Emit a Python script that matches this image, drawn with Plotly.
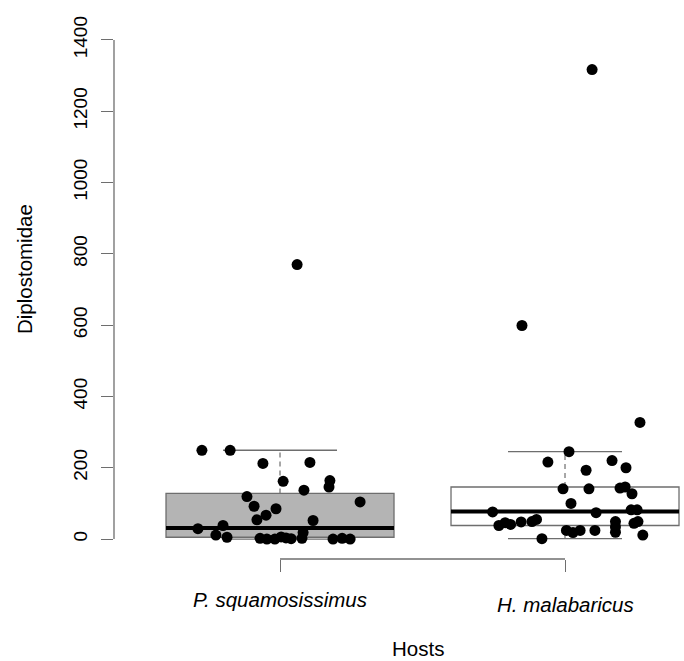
import plotly.graph_objects as go

# ---- data ----
hosts = ["P. squamosissimus", "H. malabaricus"]
host_pos = [1, 2]

# box statistics (lower whisker, Q1, median, Q3, upper whisker)
lower_whisker = [0, 1]
q1 = [5, 38]
median = [31, 77]
q3 = [128, 146]
upper_whisker = [249, 245]

# individual fish counts (jittered strip chart)
ps_values = [249, 249, 212, 215, 162, 164, 137, 146, 119, 104, 92, 85, 67, 54, 52,
             29, 38, 11, 5, 18, 2, 2, 0, 0, 6, 3, 1, 0, 2, 0, 770]
ps_jitter = [-0.274, -0.175, -0.060, 0.105, 0.011, 0.175, 0.084, 0.172, -0.116, 0.281,
             -0.091, -0.014, -0.049, -0.081, 0.116, -0.288, -0.200, -0.225, -0.186,
             0.081, 0.077, -0.070, -0.046, -0.018, 0.004, 0.021, 0.039, 0.186, 0.218,
             0.246, 0.060]

hm_values = [327, 245, 216, 220, 200, 193, 141, 141, 143, 146, 127, 100, 76, 74, 82,
             82, 38, 46, 41, 48, 49, 55, 1, 24, 18, 24, 24, 49, 34, 19, 44, 49, 11,
             599, 1317]
hm_jitter = [0.263, 0.014, -0.060, 0.165, 0.214, 0.074, -0.007, 0.084, 0.193, 0.211,
             0.235, 0.021, -0.254, 0.109, 0.232, 0.253, -0.232, -0.210, -0.191, -0.154,
             -0.116, -0.100, -0.081, 0.005, 0.028, 0.053, 0.105, 0.177, 0.177, 0.177,
             0.242, 0.256, 0.273, -0.151, 0.095]

y_ticks = [0, 200, 400, 600, 800, 1000, 1200, 1400]
y_title = "Diplostomidae"
x_title = "Hosts"

# ---- styling constants ----
BOX_WIDTH = 0.8
CAP_HALF = 0.2
FILLS = ["#b4b4b4", "#ffffff"]
GREY = "#6e6e6e"
FONT = "Liberation Sans, Arial, sans-serif"
LABEL_SIZE = 20.5

fig = go.Figure()

for i in range(2):
    p = host_pos[i]
    fig.add_trace(go.Box(
        x=[p], q1=[q1[i]], median=[median[i]], q3=[q3[i]],
        lowerfence=[q1[i]], upperfence=[q3[i]],
        width=BOX_WIDTH, fillcolor=FILLS[i],
        line=dict(color=GREY, width=1.3), boxpoints=False,
        whiskerwidth=0, showlegend=False, hoverinfo="skip"))
    # median
    fig.add_trace(go.Scatter(
        x=[p - BOX_WIDTH / 2, p + BOX_WIDTH / 2], y=[median[i], median[i]],
        mode="lines", line=dict(color="black", width=4), showlegend=False,
        hoverinfo="skip"))
    # dashed whiskers
    for a, b in [(q3[i], upper_whisker[i]), (lower_whisker[i], q1[i])]:
        fig.add_trace(go.Scatter(
            x=[p, p], y=[a, b], mode="lines",
            line=dict(color=GREY, width=1.2, dash="5px,4px"),
            showlegend=False, hoverinfo="skip"))
    # caps
    for w in [upper_whisker[i], lower_whisker[i]]:
        fig.add_trace(go.Scatter(
            x=[p - CAP_HALF, p + CAP_HALF], y=[w, w], mode="lines",
            line=dict(color=GREY, width=1.3), showlegend=False, hoverinfo="skip"))

# points
for p, vals, jit in [(host_pos[0], ps_values, ps_jitter),
                     (host_pos[1], hm_values, hm_jitter)]:
    fig.add_trace(go.Scatter(
        x=[p + j for j in jit], y=vals, mode="markers",
        marker=dict(color="black", size=11, line=dict(width=0)),
        showlegend=False))

# axis lines (R style, spanning only the tick range)
fig.add_shape(type="line", xref="paper", yref="y", x0=0, x1=0,
              y0=y_ticks[0], y1=y_ticks[-1], line=dict(color=GREY, width=1.3))
fig.add_shape(type="line", xref="x", yref="paper", x0=host_pos[0], x1=host_pos[-1],
              y0=0, y1=0, line=dict(color=GREY, width=1.3))

annotations = []
label_shift = [-40, -45]
for i in range(2):
    annotations.append(dict(
        x=host_pos[i], y=0, xref="x", yref="paper", yanchor="middle",
        yshift=label_shift[i], text="<i>" + hosts[i] + "</i>", showarrow=False,
        font=dict(family=FONT, size=LABEL_SIZE, color="black")))
annotations.append(dict(
    x=1.5, y=0, xref="x", yref="paper", yanchor="middle", xshift=-5, yshift=-89,
    text=x_title, showarrow=False, borderpad=0,
    font=dict(family=FONT, size=LABEL_SIZE, color="black")))
annotations.append(dict(
    x=0, y=0.538, xref="paper", yref="paper", xanchor="center", yanchor="middle",
    xshift=-90, textangle=-90, text=y_title, showarrow=False,
    font=dict(family=FONT, size=LABEL_SIZE, color="black")))

fig.update_layout(
    width=684, height=661,
    margin=dict(l=114, r=0, t=20, b=102),
    paper_bgcolor="white", plot_bgcolor="white",
    font=dict(family=FONT, color="black"),
    annotations=annotations,
    xaxis=dict(range=[0.4175, 2.4175], tickvals=host_pos, showticklabels=False,
               ticks="outside", ticklen=12, tickcolor=GREY, tickwidth=1.3,
               showline=False, showgrid=False, zeroline=False, fixedrange=True),
    yaxis=dict(range=[-56, 1456], tickvals=y_ticks, ticks="outside", ticklen=12,
               tickcolor=GREY, tickwidth=1.3, tickangle=-90, ticklabelstandoff=6,
               tickfont=dict(family=FONT, size=19, color="black"),
               showline=False, showgrid=False, zeroline=False, fixedrange=True),
)

fig.write_html("out.html", config={"displayModeBar": False},
               post_script="document.body.style.margin='0';document.body.style.padding='0';")
